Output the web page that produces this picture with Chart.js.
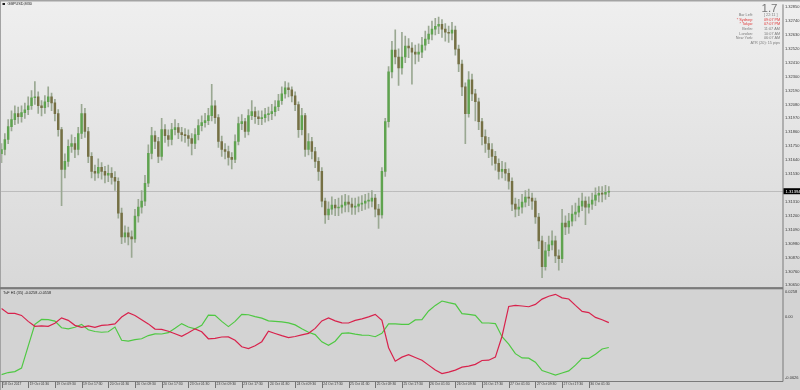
<!DOCTYPE html>
<html>
<head>
<meta charset="utf-8">
<script src="https://cdn.jsdelivr.net/npm/chart.js@4.4.0/dist/chart.umd.min.js"></script>
<style>
    html, body { margin: 0; padding: 0; background: #d4d4d4; }
    #wrap { width: 800px; height: 390px; }
</style>
</head>
<body>
<div id="wrap"><canvas id="chart" width="800" height="390"></canvas></div>
<script>
// ===== data (GBPUSD M30, drawn as 1 hour candles) =====
const symbolTitle = 'GBPUSD,M30';
const indicatorTitle = 'TuF H1 (35) -0.0258 -0.0558';

// x axis labels, one every 8 candles
const dateLabels = ['18 Oct 2017', '19 Oct 01:30', '19 Oct 09:30', '19 Oct 17:30', '20 Oct 01:30', '20 Oct 09:30',
    '20 Oct 17:30', '23 Oct 01:30', '23 Oct 09:30', '23 Oct 17:30', '24 Oct 01:30', '24 Oct 09:30', '24 Oct 17:30',
    '25 Oct 01:30', '25 Oct 09:30', '25 Oct 17:30', '26 Oct 01:30', '26 Oct 09:30', '26 Oct 17:30', '27 Oct 01:30',
    '27 Oct 09:30', '27 Oct 17:30', '30 Oct 01:30'];

const priceTicks = [1.32850, 1.32740, 1.32630, 1.32520, 1.32410, 1.32300, 1.32190, 1.32080, 1.31970, 1.31860,
    1.31750, 1.31640, 1.31530, 1.31310, 1.31200, 1.31090, 1.30980, 1.30870, 1.30760, 1.30650];
const indicatorTicks = [0.0258, 0, -0.0626];
const indicatorTickLabels = ['0.0258', '0.00', '-0.0626'];

const firstOpen = 1.3169;
const closes = [
    1.31724, 1.31803, 1.31905, 1.31960, 1.32007, 1.31983, 1.32015, 1.32038, 1.32070, 1.32133,
    1.32141, 1.32070, 1.32054, 1.32101, 1.32141, 1.32093, 1.32007, 1.31881, 1.31567, 1.31630,
    1.31748, 1.31771, 1.31724, 1.31850, 1.32007, 1.31866, 1.31669, 1.31551, 1.31536, 1.31583,
    1.31551, 1.31520, 1.31536, 1.31504, 1.31473, 1.31221, 1.31033, 1.31064, 1.31033, 1.31017,
    1.31198, 1.31268, 1.31316, 1.31457, 1.31693, 1.31834, 1.31787, 1.31669, 1.31881, 1.31834,
    1.31803, 1.31881, 1.31897, 1.31858, 1.31842, 1.31834, 1.31811, 1.31771, 1.31842, 1.31913,
    1.31936, 1.31952, 1.31991, 1.32070, 1.31976, 1.31787, 1.31724, 1.31708, 1.31661, 1.31646,
    1.31787, 1.31928, 1.31944, 1.31866, 1.31991, 1.32023, 1.31983, 1.31968, 1.31976, 1.31999,
    1.32007, 1.32023, 1.32062, 1.32109, 1.32164, 1.32211, 1.32196, 1.32148, 1.32078, 1.31881,
    1.31991, 1.31724, 1.31787, 1.31708, 1.31630, 1.31551, 1.31316, 1.31206, 1.31253, 1.31284,
    1.31261, 1.31268, 1.31284, 1.31308, 1.31292, 1.31268, 1.31276, 1.31292, 1.31300, 1.31316,
    1.31316, 1.31339, 1.31253, 1.31206, 1.31551, 1.31944, 1.32337, 1.32510, 1.32455, 1.32368,
    1.32455, 1.32541, 1.32526, 1.32494, 1.32478, 1.32494, 1.32549, 1.32596, 1.32636, 1.32675,
    1.32698, 1.32714, 1.32675, 1.32651, 1.32643, 1.32667, 1.32518, 1.32400, 1.32219, 1.32007,
    1.32274, 1.32164, 1.32101, 1.31944, 1.31826, 1.31771, 1.31724, 1.31669, 1.31614, 1.31551,
    1.31567, 1.31536, 1.31473, 1.31292, 1.31253, 1.31268, 1.31308, 1.31347, 1.31339, 1.31316,
    1.31190, 1.31001, 1.30797, 1.30923, 1.30970, 1.31001, 1.30883, 1.30860, 1.31143, 1.31111,
    1.31158, 1.31213, 1.31229, 1.31276, 1.31316, 1.31268, 1.31292, 1.31323, 1.31363, 1.31378,
    1.31371, 1.31386, 1.31394];
const highs = [
    1.3177, 1.3185, 1.3196, 1.3203, 1.3207, 1.3206, 1.3207, 1.3209, 1.3214, 1.3219,
    1.3226, 1.3218, 1.3211, 1.3215, 1.3222, 1.3217, 1.3212, 1.3204, 1.3190, 1.3169,
    1.3180, 1.3184, 1.3182, 1.3190, 1.3208, 1.3205, 1.3190, 1.3170, 1.3160, 1.3165,
    1.3162, 1.3159, 1.3160, 1.3158, 1.3155, 1.3150, 1.3126, 1.3112, 1.3111, 1.3108,
    1.3125, 1.3133, 1.3140, 1.3152, 1.3176, 1.3190, 1.3187, 1.3182, 1.3197, 1.3192,
    1.3188, 1.3193, 1.3196, 1.3193, 1.3190, 1.3189, 1.3188, 1.3185, 1.3189, 1.3196,
    1.3199, 1.3201, 1.3205, 1.3224, 1.3211, 1.3200, 1.3183, 1.3177, 1.3175, 1.3170,
    1.3184, 1.3198, 1.3200, 1.3197, 1.3204, 1.3211, 1.3206, 1.3203, 1.3203, 1.3205,
    1.3206, 1.3208, 1.3211, 1.3216, 1.3222, 1.3226, 1.3225, 1.3222, 1.3218, 1.3210,
    1.3205, 1.3201, 1.3185, 1.3182, 1.3174, 1.3166, 1.3158, 1.3134, 1.3131, 1.3135,
    1.3133, 1.3134, 1.3136, 1.3137, 1.3136, 1.3134, 1.3134, 1.3135, 1.3136, 1.3137,
    1.3138, 1.3140, 1.3137, 1.3129, 1.3158, 1.3197, 1.3238, 1.3258, 1.3267, 1.3252,
    1.3265, 1.3262, 1.3260, 1.3257, 1.3255, 1.3256, 1.3261, 1.3266, 1.3270, 1.3274,
    1.3276, 1.3277, 1.3275, 1.3272, 1.3270, 1.3273, 1.3270, 1.3255, 1.3243, 1.3225,
    1.3234, 1.3232, 1.3220, 1.3213, 1.3197, 1.3188, 1.3182, 1.3177, 1.3171, 1.3165,
    1.3163, 1.3162, 1.3157, 1.3150, 1.3134, 1.3133, 1.3137, 1.3140, 1.3141, 1.3138,
    1.3134, 1.3122, 1.3104, 1.3099, 1.3104, 1.3108, 1.3104, 1.3093, 1.3125, 1.3120,
    1.3122, 1.3128, 1.3130, 1.3134, 1.3138, 1.3135, 1.3135, 1.3138, 1.3142, 1.3143,
    1.3143, 1.3144, 1.3143];
const lows = [
    1.3162, 1.3168, 1.3177, 1.3187, 1.3192, 1.3193, 1.3194, 1.3197, 1.3200, 1.3204,
    1.3208, 1.3201, 1.3199, 1.3201, 1.3206, 1.3203, 1.3195, 1.3183, 1.3128, 1.3150,
    1.3159, 1.3170, 1.3166, 1.3168, 1.3181, 1.3182, 1.3162, 1.3150, 1.3148, 1.3150,
    1.3149, 1.3146, 1.3147, 1.3145, 1.3140, 1.3118, 1.3098, 1.3099, 1.3097, 1.3087,
    1.3099, 1.3115, 1.3122, 1.3128, 1.3143, 1.3165, 1.3173, 1.3162, 1.3164, 1.3178,
    1.3175, 1.3176, 1.3184, 1.3181, 1.3179, 1.3178, 1.3175, 1.3168, 1.3173, 1.3180,
    1.3187, 1.3190, 1.3192, 1.3195, 1.3193, 1.3174, 1.3167, 1.3165, 1.3160, 1.3157,
    1.3162, 1.3176, 1.3188, 1.3182, 1.3184, 1.3196, 1.3193, 1.3192, 1.3192, 1.3194,
    1.3195, 1.3196, 1.3199, 1.3203, 1.3208, 1.3213, 1.3214, 1.3210, 1.3203, 1.3182,
    1.3184, 1.3167, 1.3168, 1.3165, 1.3158, 1.3148, 1.3127, 1.3114, 1.3117, 1.3121,
    1.3120, 1.3120, 1.3122, 1.3123, 1.3123, 1.3121, 1.3121, 1.3123, 1.3124, 1.3125,
    1.3126, 1.3127, 1.3119, 1.3110, 1.3118, 1.3151, 1.3190, 1.3229, 1.3240, 1.3223,
    1.3232, 1.3241, 1.3245, 1.3224, 1.3240, 1.3242, 1.3245, 1.3251, 1.3256, 1.3259,
    1.3263, 1.3264, 1.3261, 1.3258, 1.3257, 1.3259, 1.3247, 1.3234, 1.3215, 1.3177,
    1.3198, 1.3211, 1.3195, 1.3188, 1.3176, 1.3170, 1.3166, 1.3160, 1.3156, 1.3149,
    1.3150, 1.3148, 1.3141, 1.3124, 1.3119, 1.3120, 1.3122, 1.3127, 1.3128, 1.3125,
    1.3114, 1.3094, 1.3071, 1.3077, 1.3088, 1.3093, 1.3083, 1.3077, 1.3083, 1.3105,
    1.3106, 1.3112, 1.3116, 1.3119, 1.3124, 1.3113, 1.3122, 1.3125, 1.3128, 1.3131,
    1.3131, 1.3133, 1.3135];

// indicator lines, one value every 2 candles
const redLine = [
    0.0084, 0.0033, 0.0033, 0.0012, -0.0049, -0.0100, -0.0095, -0.0100, -0.0069, -0.0013,
    -0.0039, -0.0090, -0.0110, -0.0095, -0.0110, -0.0090, -0.0085, -0.0075, -0.0005, 0.0040,
    0.0012, -0.0032, -0.0075, -0.0128, -0.0131, -0.0151, -0.0177, -0.0202, -0.0167, -0.0126,
    -0.0156, -0.0228, -0.0223, -0.0210, -0.0209, -0.0243, -0.0310, -0.0328, -0.0299, -0.0258,
    -0.0151, -0.0174, -0.0196, -0.0216, -0.0205, -0.0188, -0.0172, -0.0121, -0.0044, -0.0013,
    -0.0044, -0.0064, -0.0066, -0.0039, -0.0023, -0.0003, 0.0023, -0.0039, -0.0320, -0.0458,
    -0.0417, -0.0391, -0.0420, -0.0448, -0.0499, -0.0550, -0.0585, -0.0570, -0.0550, -0.0519,
    -0.0509, -0.0491, -0.0451, -0.0448, -0.0417, -0.0202, 0.0104, 0.0115, 0.0109, 0.0101,
    0.0125, 0.0180, 0.0209, 0.0229, 0.0193, 0.0181, 0.0115, 0.0053, 0.0041, -0.0008,
    -0.0032, -0.0062];
const greenLine = [
    -0.0596, -0.0575, -0.0565, -0.0529, -0.0304, -0.0080, -0.0029, -0.0032, -0.0046, -0.0115,
    -0.0126, -0.0110, -0.0080, -0.0136, -0.0153, -0.0161, -0.0156, -0.0108, -0.0243, -0.0253,
    -0.0236, -0.0228, -0.0195, -0.0177, -0.0179, -0.0165, -0.0121, -0.0072, -0.0107, -0.0126,
    -0.0090, 0.0014, 0.0012, -0.0049, -0.0103, -0.0049, 0.0023, 0.0019, 0.0000, -0.0016,
    -0.0044, -0.0049, -0.0054, -0.0064, -0.0085, -0.0125, -0.0161, -0.0185, -0.0260, -0.0294,
    -0.0253, -0.0172, -0.0167, -0.0180, -0.0190, -0.0192, -0.0207, -0.0172, -0.0075, -0.0075,
    -0.0080, -0.0080, -0.0034, -0.0032, 0.0058, 0.0115, 0.0160, 0.0143, 0.0129, 0.0030,
    0.0023, 0.0012, -0.0066, -0.0066, -0.0072, -0.0207, -0.0284, -0.0381, -0.0425, -0.0427,
    -0.0468, -0.0555, -0.0577, -0.0601, -0.0580, -0.0558, -0.0499, -0.0430, -0.0430, -0.0386,
    -0.0333, -0.0318];

// clock / info panel in the top right corner
const infoRows = [
    ['Bar Left:', '[ 22:11 ]', false],
    ['* Sydney:', '09:07 PM', true],
    ['* Tokyo:', '07:07 PM', true],
    ['Berlin:', '11:07 AM', false],
    ['London:', '10:07 AM', false],
    ['New York:', '06:07 AM', false]
];
const atrText = 'ATR (20): 15 pips';
const spreadText = '1.7';

// ===== colours =====
const bullColor = '#5fa34f';
const bearColor = '#757044';
const wickColor = '#9aa892';
const redColor = '#d8224c';
const greenColor = '#4fc843';
const frameColor = '#7a7a7a';
const textColor = '#383838';
const fontName = '"Liberation Sans", Arial, sans-serif';

Chart.defaults.font.family = fontName;

// open of each candle = close of the one before
const opens = closes.map((c, i) => i === 0 ? firstOpen : closes[i - 1]);
const lastClose = closes[closes.length - 1];

const wickData = highs.map((h, i) => ({x: i, y: [lows[i], h]}));
const bodyData = closes.map((c, i) => ({x: i, y: [opens[i], c]}));
const bodyColors = closes.map((c, i) => c >= opens[i] ? bullColor : bearColor);
const redData = redLine.map((v, k) => ({x: k * 2, y: v}));
const greenData = greenLine.map((v, k) => ({x: k * 2, y: v}));

function font(size) {
    return size + 'px ' + fontName;
}

const panesPlugin = {
    id: 'panes',
    beforeDraw(chart) {
        const ctx = chart.ctx;
        const sep = chart.scales.y.bottom;
        ctx.save();
        const g = ctx.createLinearGradient(0, 0, 0, sep);
        g.addColorStop(0, '#efefef');
        g.addColorStop(1, '#d8d8d8');
        ctx.fillStyle = g;
        ctx.fillRect(0, 0, chart.width, sep);
        ctx.fillStyle = '#d3d3d3';
        ctx.fillRect(0, sep, chart.width, chart.height - sep);
        ctx.restore();
    },
    beforeDatasetsDraw(chart) {
        // current bid line
        const ctx = chart.ctx;
        const a = chart.chartArea;
        const y = Math.round(chart.scales.y.getPixelForValue(lastClose)) + 0.5;
        ctx.save();
        ctx.strokeStyle = '#bcbcbc';
        ctx.lineWidth = 1;
        ctx.beginPath();
        ctx.moveTo(a.left, y);
        ctx.lineTo(a.right, y);
        ctx.stroke();
        ctx.restore();
    },
    afterDraw(chart) {
        const ctx = chart.ctx;
        const a = chart.chartArea;
        const sep = chart.scales.y.bottom;
        ctx.save();

        // frame
        ctx.fillStyle = '#a3a3a3';
        ctx.fillRect(0, 0, chart.width, 1.5);
        ctx.fillRect(0, 0, 1, chart.height);
        ctx.fillStyle = frameColor;
        ctx.fillRect(0, sep - 0.5, a.right, 2.2);
        ctx.fillRect(a.right - 0.5, a.top, 1, a.bottom - a.top + 0.5);
        ctx.fillRect(0, a.bottom, a.right, 1);

        // date tick marks
        const xs = chart.scales.x;
        ctx.fillStyle = '#4a4a4a';
        xs.ticks.forEach(t => {
            const px = Math.round(xs.getPixelForValue(t.value));
            ctx.fillRect(px, a.bottom + 1, 0.7, 6);
        });

        // price label of last close
        const py = chart.scales.y.getPixelForValue(lastClose);
        ctx.fillStyle = '#000000';
        ctx.fillRect(a.right + 0.5, py - 3, chart.width - a.right, 6);
        ctx.fillStyle = '#ffffff';
        ctx.font = font(4.2);
        ctx.textBaseline = 'middle';
        ctx.textAlign = 'left';
        ctx.fillText(lastClose.toFixed(5), a.right + 2.5, py + 0.2);

        // symbol title
        ctx.fillStyle = '#1e1e1e';
        ctx.fillRect(2.5, 3, 2.5, 2);
        ctx.font = font(3.8);
        ctx.fillText(symbolTitle, 7.5, 4.2);

        // indicator title
        ctx.fillText(indicatorTitle, 3, sep + 5);

        // info panel
        ctx.fillStyle = '#757575';
        ctx.font = font(11.5);
        ctx.textAlign = 'right';
        ctx.textBaseline = 'alphabetic';
        ctx.fillText(spreadText, 777.5, 12);

        ctx.font = font(3.8);
        ctx.textBaseline = 'middle';
        infoRows.forEach((r, i) => {
            const y = 15.2 + i * 4.6;
            ctx.fillStyle = r[2] ? '#e03a3a' : '#7c7c7c';
            ctx.textAlign = 'right';
            ctx.fillText(r[0], 753, y);
            ctx.textAlign = 'left';
            ctx.fillText(r[1], 764, y);
        });
        ctx.fillStyle = '#7c7c7c';
        ctx.textAlign = 'right';
        ctx.fillText(atrText, 780, 43.3);

        ctx.restore();
    }
};

const chart = new Chart(document.getElementById('chart').getContext('2d'), {
    type: 'bar',
    data: {
        datasets: [
            {
                label: 'wicks',
                data: wickData,
                yAxisID: 'y',
                backgroundColor: wickColor,
                barThickness: 1,
                grouped: false,
                order: 3
            },
            {
                label: 'bodies',
                data: bodyData,
                yAxisID: 'y',
                backgroundColor: bodyColors,
                barThickness: 1.8,
                minBarLength: 1,
                grouped: false,
                order: 2
            },
            {
                type: 'line',
                label: 'green',
                data: greenData,
                yAxisID: 'y2',
                borderColor: greenColor,
                borderWidth: 1.2,
                pointRadius: 0,
                tension: 0,
                order: 1
            },
            {
                type: 'line',
                label: 'red',
                data: redData,
                yAxisID: 'y2',
                borderColor: redColor,
                borderWidth: 1.2,
                pointRadius: 0,
                tension: 0,
                order: 0
            }
        ]
    },
    options: {
        responsive: false,
        animation: false,
        devicePixelRatio: 1,
        layout: {padding: {top: 2, left: 1, right: 0, bottom: 0}},
        plugins: {legend: {display: false}, tooltip: {enabled: false}},
        scales: {
            x: {
                type: 'linear',
                min: -0.1,
                max: 234.2,
                offset: false,
                grid: {display: false, drawTicks: false},
                border: {display: false},
                afterBuildTicks: axis => {
                    axis.ticks = dateLabels.map((d, k) => ({value: k * 8}));
                },
                afterFit: axis => {
                    axis.height = 9;
                },
                ticks: {
                    autoSkip: false,
                    maxRotation: 0,
                    align: 'start',
                    labelOffset: 1.5,
                    padding: 1.5,
                    color: textColor,
                    font: {size: 3.4},
                    callback: (v, i) => dateLabels[i]
                }
            },
            y: {
                type: 'linear',
                position: 'right',
                stack: 'panes',
                stackWeight: 285,
                min: 1.30632,
                max: 1.32871,
                grid: {display: false, drawTicks: false},
                border: {display: false},
                afterBuildTicks: axis => {
                    axis.ticks = priceTicks.map(v => ({value: v}));
                },
                afterFit: axis => {
                    axis.width = 17;
                },
                ticks: {
                    autoSkip: false,
                    padding: 2,
                    color: textColor,
                    font: {size: 4},
                    callback: v => v.toFixed(5)
                }
            },
            y2: {
                type: 'linear',
                position: 'right',
                stack: 'panes',
                stackWeight: 94,
                min: -0.0662,
                max: 0.0298,
                grid: {display: false, drawTicks: false},
                border: {display: false},
                afterBuildTicks: axis => {
                    axis.ticks = indicatorTicks.map(v => ({value: v}));
                },
                afterFit: axis => {
                    axis.width = 17;
                },
                ticks: {
                    autoSkip: false,
                    padding: 2,
                    color: textColor,
                    font: {size: 4},
                    callback: (v, i) => indicatorTickLabels[i]
                }
            }
        }
    },
    plugins: [panesPlugin]
});
</script>
</body>
</html>
